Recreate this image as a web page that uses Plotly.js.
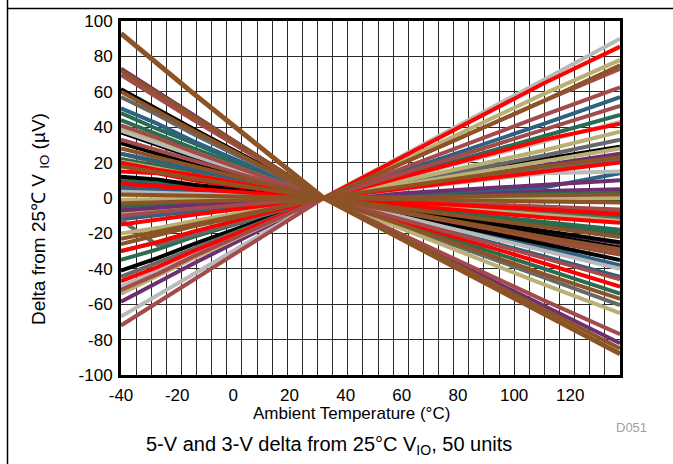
<!DOCTYPE html>
<html>
<head>
<meta charset="utf-8">
<script src="https://cdn.plot.ly/plotly-3.0.1.min.js"></script>
<style>html,body{margin:0;padding:0;background:#fff;}#chart{width:673px;height:464px;}</style>
</head>
<body>
<div id="chart"></div>
<script>
// Temperatures (°C) at which each unit's delta is read
const temps = [-40, -28, -16, 27, 100, 125];
// x-axis labels as printed on the reference
const xTickVals = [-40, -20, 0, 20, 40, 60, 80, 100, 120];
const yTickVals = [-100, -80, -60, -40, -20, 0, 20, 40, 60, 80, 100];

// Delta from 25°C VIO (µV) per unit
const u01 = [5, 4, 3, 0, -5, -6.5];
const u02 = [-4, -3.3, -2.5, 0, 4, 5];
const u03 = [10, 8, 6.5, 0, -8, -10];
const u04 = [6, 5, 4, 0, -15, -20];
const u05 = [-8, -6.5, -5, 0, -2, -1];
const u06 = [-5.5, -4.5, -3.5, 0, -6, -8];
const u07 = [25, 20, 16, 0, -24, -32];
const u08 = [18, 15, 11.5, 0, -9, -12];
const u09 = [-5, -4, -3, 0, 2.5, 3];
const u10 = [-35, -29, -22, 0, 35, 47];
const u11 = [22, 18, 14, 0, -13.5, -18];
const u12 = [44, 36, 28, 0, -15, -20];
const u13 = [48, 39, 31, 0, -40, -54];
const u14 = [-12, -10, -7.5, 0, 6, 14];
const u15 = [-30, -25, -19, 0, 42, 57];
const u16 = [25, 21, 16, 0, -28, -38];
const u17 = [50.7, 42, 32, 0, -33, -44.5];
const u18 = [-7, -5.5, -4, 0, 7.5, 10];
const u19 = [-58.6, -48, -37, 0, 19, 25];
const u20 = [8, 7, 5, 0, -19, -25.6];
const u21 = [73, 60, 47, 0, -61, -82];
const u22 = [-41, -34, -26, 0, 22, 29];
const u23 = [12, 10.5, 7.5, 0, -1, -1];
const u24 = [31, 25, 19, 0, -19, -25];
const u25 = [37, 30, 23, 0, -21, -28];
const u26 = [61.5, 50, 39, 0, -26, -35];
const u27 = [-12.4, -26.6, -21, 0, 16, 22];
const u28 = [-44.5, -36.5, -28.5, 0, 24, 33];
const u29 = [57, 47, 36, 0, -45, -60.5];
const u30 = [3.6, 3, 2.3, 0, 14, 15];
const u31 = [38, 31, 24, 0, -30, -40];
const u32 = [-50, -41, -32, 0, 32, 43];
const u33 = [-67, -55, -43, 0, 67, 90];
const u34 = [40, 33, 26, 0, -49, -65];
const u35 = [-1, -1, -0.5, 0, 21, 28];
const u36 = [-20, -17, -13, 0, 27, 37.5];
const u37 = [-54, -44, -34, 0, 59, 78];
const u38 = [1.7, 1.4, 1, 0, -0.5, -0.2];
const u39 = [20.5, 17, 13, 0, -10, -13];
const u40 = [8, 6.5, 5, 0, -11, -14];
const u41 = [20, 16, 13, 0, -37, -50];
const u42 = [-15, -12, -9.5, 0, 15, 20];
const u43 = [-30, -25, -19, 0, 33, 42];
const u44 = [15, 14, 10, 0, -6.5, -9];
const u45 = [-47, -39, -30, 0, 65, 85.5];
const u46 = [-10, -8, -6, 0, 39, 52];
const u47 = [-52, -43, -33, 0, 47, 62.5];
const u48 = [-72, -59, -46, 0, 55, 73];
const u49 = [33, 27, 21, 0, -23, -31];
const u50 = [41, 34, 26, 0, -34, -46];
const u51 = [69.5, 57, 44, 0, -58, -77];
const u52 = [2, 1.6, 1.3, 0, -2, -2.6];
const u53 = [-3, -2.5, -2, 0, 1.5, 2];
const u54 = [-23, -19, -15, 0, 18, 23];
const u55 = [-26, -21, -16, 0, 55, 75];
const u56 = [18, 14.5, 11, 0, -16, -22];
const u57 = [28, 23, 18, 0, -22, -29];
const u58 = [60, 49, 38, 0, -43, -57];
const u59 = [72, 59, 46, 0, -63, -85];
const u60 = [93, 76, 59, 0, -66, -88];

const units = [u01,u02,u03,u04,u05,u06,u07,u08,u09,u10,u11,u12,u13,u14,u15,u16,u17,u18,u19,u20,
  u21,u22,u23,u24,u25,u26,u27,u28,u29,u30,u31,u32,u33,u34,u35,u36,u37,u38,u39,u40,
  u41,u42,u43,u44,u45,u46,u47,u48,u49,u50,u51,u52,u53,u54,u55,u56,u57,u58,u59,u60];

// styles (kept separate from data)
const BR = '#8c5426', BRD = '#a34a4a', RED = '#ff0000', KH = '#b8b074', LG = '#b9b9b9',
      DG = '#686868', BK = '#000000', PU = '#6e2f72', BL = '#2d6283', GR = '#2b6b50';
const colors = [BRD, PU, GR, BL, KH, BRD, BR, DG, GR, GR, GR, GR, GR, BL, BL, BL, BL, PU, PU, PU,
  PU, BK, BK, BK, BK, BK, DG, DG, DG, LG, LG, LG, LG, KH, KH, KH, KH, KH, KH, RED,
  RED, RED, RED, RED, RED, BRD, BRD, BRD, BRD, BRD, BRD, BR, BR, BR, BR, BR, BR, BR, BR, BR];

const traces = units.map((vals, i) => ({
  type: 'scatter', mode: 'lines', x: temps, y: vals,
  line: {color: colors[i], width: i === units.length - 1 ? 5 : 4},
  hoverinfo: 'skip', showlegend: false
}));
traces.push({type: 'scatter', mode: 'lines', x: [], y: [], xaxis: 'x2', yaxis: 'y', hoverinfo: 'skip', showlegend: false});

const FONT = 'Liberation Sans, Arial, sans-serif';
const L = 121, T = 21, W = 499, H = 354;
const px = p => (p - L) / W;
const py = q => (T + H - q) / H;

const layout = {
  width: 673, height: 464,
  margin: {l: L, r: 673 - L - W, t: T, b: 464 - T - H, pad: 0},
  paper_bgcolor: '#fff', plot_bgcolor: '#fff',
  font: {family: FONT, color: '#000', size: 17},
  showlegend: false,
  xaxis: {
    range: [-40, 125], tick0: -40, dtick: 5, showgrid: true, gridcolor: '#2a2a2a', gridwidth: 1,
    showticklabels: false, ticks: '', zeroline: false,
    showline: true, linecolor: '#000', linewidth: 3, mirror: true, fixedrange: true
  },
  xaxis2: {
    overlaying: 'x', anchor: 'y', side: 'bottom', range: [-40, 137.7],
    tickmode: 'array', tickvals: xTickVals, ticktext: xTickVals.map(String),
    showgrid: false, zeroline: false, showline: false,
    ticks: 'outside', ticklen: 5, tickcolor: 'rgba(0,0,0,0)',
    tickfont: {family: FONT, size: 17, color: '#000'}, fixedrange: true
  },
  yaxis: {
    range: [-100, 100], tickmode: 'array', tickvals: yTickVals, ticktext: yTickVals.map(String),
    showgrid: true, gridcolor: '#2a2a2a', gridwidth: 1, zeroline: false,
    ticks: 'outside', ticklen: 2, tickcolor: 'rgba(0,0,0,0)',
    tickfont: {family: FONT, size: 17, color: '#000'},
    showline: true, linecolor: '#000', linewidth: 3, mirror: true, fixedrange: true
  },
  shapes: [
    {type: 'line', xref: 'paper', yref: 'paper', x0: px(7.5), x1: px(7.5), y0: py(0), y1: py(464), line: {color: '#000', width: 1.5}},
    {type: 'line', xref: 'paper', yref: 'paper', x0: px(7.5), x1: px(673), y0: py(8.5), y1: py(8.5), line: {color: '#000', width: 1.5}}
  ],
  annotations: [
    {text: 'Ambient Temperature (°C)', xref: 'paper', yref: 'paper', x: px(351), y: py(413),
     xanchor: 'center', yanchor: 'middle', showarrow: false, font: {family: FONT, size: 17, color: '#000'}},
    {text: 'Delta from 25℃ V <sub>IO</sub> (µV)', xref: 'paper', yref: 'paper', x: px(40), y: py(219),
     xanchor: 'center', yanchor: 'middle', textangle: -90, showarrow: false, font: {family: FONT, size: 19, color: '#000'}},
    {text: '5-V and 3-V delta from 25°C V<sub>IO</sub>, 50 units', xref: 'paper', yref: 'paper', x: px(329), y: py(445),
     xanchor: 'center', yanchor: 'middle', showarrow: false, font: {family: FONT, size: 20, color: '#000'}},
    {text: 'D051', xref: 'paper', yref: 'paper', x: px(631), y: py(427),
     xanchor: 'center', yanchor: 'middle', showarrow: false, font: {family: FONT, size: 13, color: '#a0a0a0'}}
  ]
};

Plotly.newPlot('chart', traces, layout, {displayModeBar: false, staticPlot: true});
</script>
</body>
</html>
